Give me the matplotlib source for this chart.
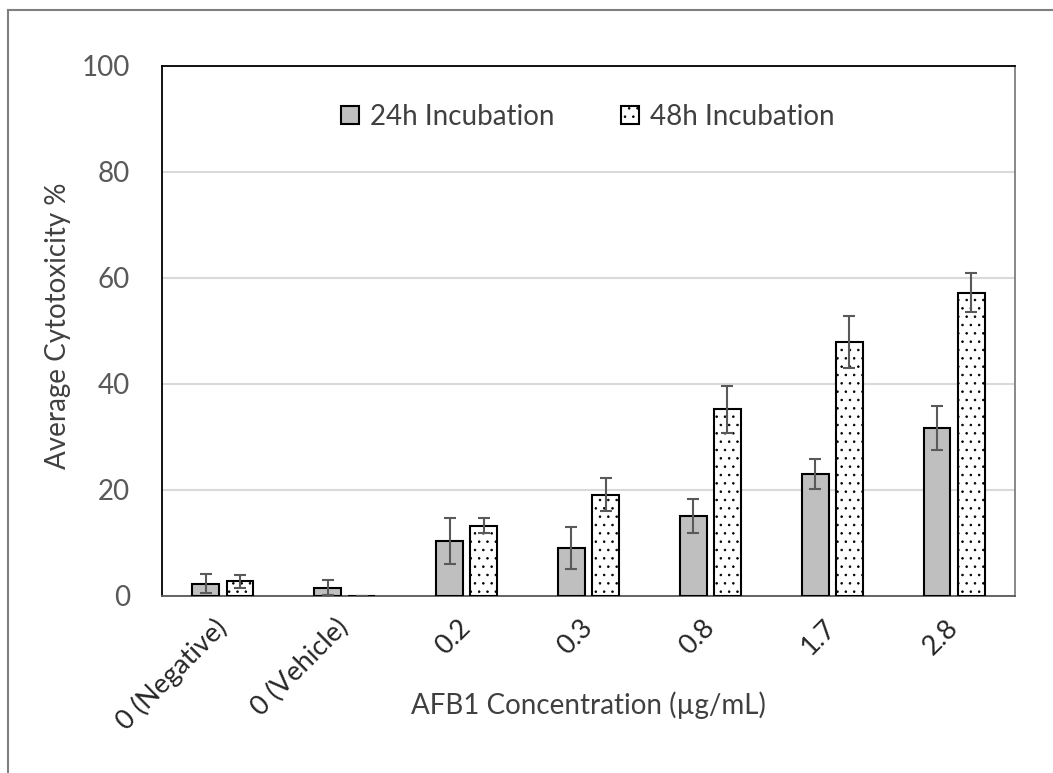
import numpy as np
import matplotlib
matplotlib.use("Agg")
import matplotlib.pyplot as plt
from matplotlib.lines import Line2D
from matplotlib.patches import Patch

categories = ["0 (Negative)", "0 (Vehicle)", "0.2", "0.3", "0.8", "1.7", "2.8"]
h24 = [2.3, 1.6, 10.4, 9.1, 15.1, 23.0, 31.7]
h24_err = [1.8, 1.4, 4.3, 4.0, 3.2, 2.8, 4.1]
h48 = [2.8, 0.0, 13.3, 19.1, 35.2, 47.9, 57.2]
h48_err = [1.2, 0.0, 1.4, 3.1, 4.4, 4.9, 3.7]
yticks = [0, 20, 40, 60, 80, 100]

plt.rcParams['font.family'] = ['Lato', 'DejaVu Sans']
plt.rcParams['hatch.linewidth'] = 0.6

fig = plt.figure(figsize=(10.53, 7.73), dpi=100)
ax = fig.add_axes([162/1053, 1-596/773, (1015-162)/1053, (596-66)/773])

x = np.arange(len(categories))
w = 0.22
off = 0.14
ax.bar(x - off, h24, w, color="#bfbfbf", edgecolor="black", linewidth=1.5, zorder=3)
ax.bar(x + off, h48, w, color="white", edgecolor="black", linewidth=1.5,
       hatch="..", zorder=3)
ax.errorbar(x - off, h24, yerr=h24_err, fmt="none", ecolor="#595959",
            elinewidth=1.5, capsize=4.5, capthick=1.5, zorder=4)
ax.errorbar(x + off, h48, yerr=h48_err, fmt="none", ecolor="#595959",
            elinewidth=1.5, capsize=4.5, capthick=1.5, zorder=4)

ax.set_xlim(-0.5, len(categories) - 0.5)
ax.set_ylim(0, 100)
ax.set_yticks(yticks)
ax.yaxis.grid(True, color="#d9d9d9", linewidth=1.5, zorder=0)
ax.set_axisbelow(True)
ax.tick_params(axis="y", length=0, pad=23, labelsize=20, labelcolor="#595959")
ax.tick_params(axis="x", length=0, pad=20, labelsize=19.5, labelcolor="#262626")
ax.set_xticks(x)
ax.set_xticklabels(categories, rotation=45, ha="right", va="center",
                   rotation_mode="anchor")

for s in ["left", "top"]:
    ax.spines[s].set_color("black")
    ax.spines[s].set_linewidth(1.3)
ax.spines["right"].set_color("#7f7f7f")
ax.spines["right"].set_linewidth(1.3)
ax.spines["bottom"].set_color("#595959")
ax.spines["bottom"].set_linewidth(1.3)

ax.set_ylabel("Average Cytotoxicity %", fontsize=20, color="#404040")
ax.yaxis.set_label_coords(-0.107, 0.509)
ax.set_xlabel("AFB1 Concentration (µg/mL)", fontsize=20, color="#404040",
              va="center")
ax.xaxis.set_label_coords(0.5, -0.206)

handles = [Patch(facecolor="#bfbfbf", edgecolor="black", linewidth=1.5),
           Patch(facecolor="white", edgecolor="black", linewidth=1.5, hatch="..")]
ax.legend(handles, ["24h Incubation", "48h Incubation"], loc="center",
          bbox_to_anchor=(0.499, 0.904), ncol=2, frameon=False, fontsize=20,
          labelcolor="#404040", handlelength=0.65, handleheight=0.65,
          handletextpad=0.4, columnspacing=2.4)

# outer chart frame (cropped on right/bottom)
fig.add_artist(Line2D([8/1053, 8/1053], [0, 1-10/773], color="#7f7f7f", lw=1.5))
fig.add_artist(Line2D([8/1053, 1], [1-10/773, 1-10/773], color="#7f7f7f", lw=1.5))

fig.savefig("out.png", dpi=100)
